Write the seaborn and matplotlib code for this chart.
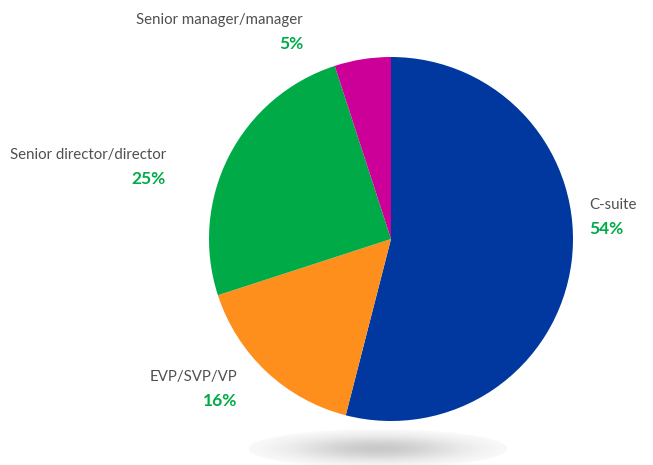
import matplotlib
matplotlib.use("Agg")
import matplotlib.pyplot as plt
import numpy as np
import seaborn as sns

categories = ["C-suite", "EVP/SVP/VP", "Senior director/director", "Senior manager/manager"]
shares = [54, 16, 25, 5]
slice_colors = ["#0038A0", "#FF8F1C", "#00AB47", "#CC0099"]

# label anchor positions in pixel space (x, y from top), and alignment
label_pos = [(589, 205, "left"), (237, 377, "right"), (166, 155, "right"), (303, 20, "right")]

sns.set_theme(style="white")
plt.rcParams["font.family"] = ["Lato", "DejaVu Sans"]

W, H = 653, 465
fig = plt.figure(figsize=(W / 100, H / 100), dpi=100)
ax = fig.add_axes([0, 0, 1, 1])

# soft shadow under the pie
gx = np.linspace(-1, 1, 300)
gy = np.linspace(-1, 1, 60)
X, Y = np.meshgrid(gx, gy)
g = np.exp(-(X ** 2) * 2.2 - (Y ** 2) * 2.2)
g[(X ** 2 + Y ** 2) > 1] = 0
rgba = np.zeros((60, 300, 4))
rgba[..., :3] = 0.5
rgba[..., 3] = g * 0.42
ax.imshow(rgba, extent=(248, 508, H - 468, H - 430), zorder=0, interpolation="bilinear", aspect="auto")

ax.pie(shares, colors=slice_colors, startangle=90, counterclock=False,
       center=(391, H - 239), radius=182, frame=True,
       wedgeprops=dict(linewidth=0))
ax.set_xlim(0, W)
ax.set_ylim(0, H)
ax.set_aspect("equal")
ax.axis("off")

for cat, val, (x, y, ha) in zip(categories, shares, label_pos):
    ax.text(x, H - y, cat, ha=ha, va="center", fontsize=10.8, color="#505050")
    ax.text(x, H - y - 24, f"{val}%", ha=ha, va="center", fontsize=12.5, color="#00AB47", fontweight="bold")

fig.savefig("out.png", dpi=100)
